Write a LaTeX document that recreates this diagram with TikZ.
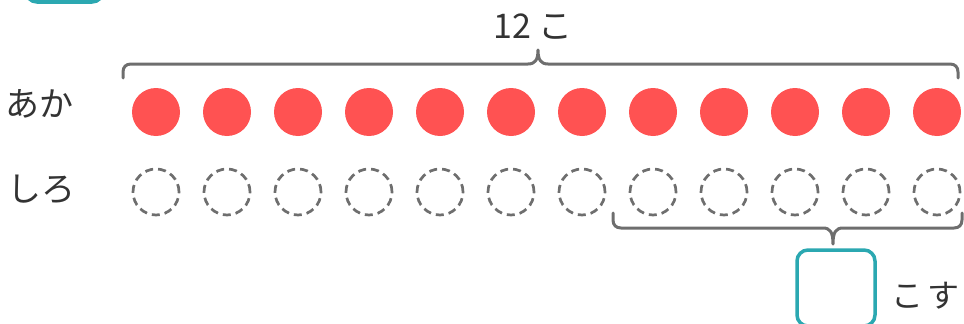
\documentclass[tikz,border=0pt]{standalone}
\usepackage{fontspec}
\setmainfont{Noto Sans CJK JP}
\definecolor{dotred}{HTML}{FF5252}
\definecolor{braceg}{HTML}{6E6E6E}
\definecolor{teal2}{HTML}{2BA8B1}
\definecolor{txt}{HTML}{333333}
\tikzset{
  reddot/.style={circle,fill=dotred,minimum size=48pt,inner sep=0pt},
  whitedot/.style={circle,draw=braceg,line width=2.7pt,dash pattern=on 8pt off 5pt,minimum size=46pt,inner sep=0pt},
  lbl/.style={text=txt,font=\fontsize{34}{34}\selectfont,inner sep=0pt},
  bracestyle/.style={draw=braceg,line width=3pt,line cap=round,line join=round},
  answerbox/.style={draw=teal2,line width=3.5pt,rounded corners=11pt}
}
\begin{document}
\begin{tikzpicture}[x=1pt,y=-1pt]
\useasboundingbox (0,0) rectangle (964,324);
\clip (0,0) rectangle (964,324);
% partial box at top
\draw[answerbox] (26,-80) rectangle (103,2);
% labels
\node[lbl,anchor=west] (aka) at (5,104) {あか};
\node[lbl,anchor=west] (shiro) at (7,189) {しろ};
% dots
\foreach \i in {1,...,12}{
  \node[reddot] (r\i) at ({156+71*(\i-1)},112) {};
  \node[whitedot] (w\i) at ({156+71*(\i-1)},192) {};
}
% top brace
\coordinate (tb) at (538,50);
\draw[bracestyle] (123,78) -- (123,72) .. controls (123,67) and (126,64) .. (131,64) -- (528,64)
  .. controls (535,64) and (538,60) .. (tb)
  .. controls (538,60) and (541,64) .. (548,64) -- (950,64)
  .. controls (955,64) and (958,67) .. (958,72) -- (958,78);
\node[lbl] (twelve) at (533,27) {12 こ};
% bottom brace
\coordinate (bb) at (833,244);
\draw[bracestyle] (613,213) -- (613,220) .. controls (613,225) and (616,228) .. (621,228) -- (823,228)
  .. controls (830,228) and (833,232) .. (bb)
  .. controls (833,232) and (836,228) .. (843,228) -- (954,228)
  .. controls (959,228) and (962,225) .. (962,220) -- (962,213);
% answer box
\node[answerbox,minimum width=78pt,minimum height=76pt,inner sep=0pt] (ans) at (836,288) {};
\node[lbl,anchor=west,font=\fontsize{32}{32}\selectfont] (kosu) at (891,296) {こ\hspace{4pt}す};
\end{tikzpicture}
\end{document}
